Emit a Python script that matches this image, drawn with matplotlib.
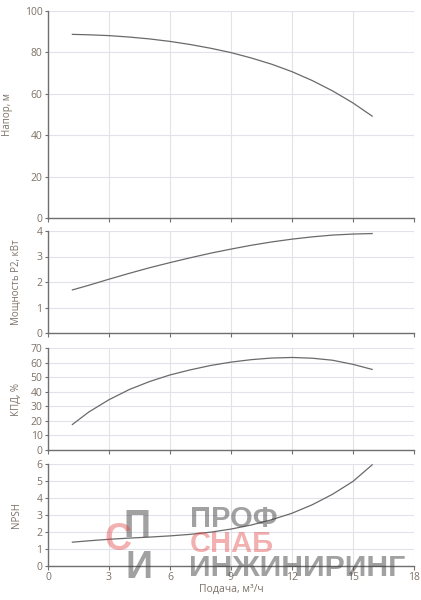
import matplotlib
matplotlib.use("Agg")
import matplotlib.pyplot as plt

# === DATI ===
flow = [1.2, 2, 3, 4, 5, 6, 7, 8, 9, 10, 11, 12, 13, 14, 15, 15.95]
head = [88.7, 88.5, 88.1, 87.4, 86.5, 85.3, 83.8, 82.0, 79.9, 77.3, 74.3,
        70.7, 66.4, 61.4, 55.6, 49.2]
power = [1.69, 1.87, 2.11, 2.34, 2.56, 2.76, 2.95, 3.13, 3.29, 3.44, 3.57,
         3.68, 3.77, 3.84, 3.88, 3.90]
eff = [17.5, 26, 34.5, 41.5, 47, 51.5, 55, 58, 60.3, 62, 63.1, 63.5, 63.0,
       61.6, 58.8, 55.3]
npsh = [1.40, 1.48, 1.57, 1.64, 1.70, 1.77, 1.86, 1.99, 2.17, 2.41, 2.72,
        3.10, 3.60, 4.22, 4.97, 5.95]

x_ticks = [0, 3, 6, 9, 12, 15, 18]
head_ticks = [0, 20, 40, 60, 80, 100]
power_ticks = [0, 1, 2, 3, 4]
eff_ticks = [0, 10, 20, 30, 40, 50, 60, 70]
npsh_ticks = [0, 1, 2, 3, 4, 5, 6]

TXT = "#7d7167"
GRID = "#e2e2ea"
SPINE = "#6f6f6f"
LINE = "#6a6a6a"

plt.rcParams['font.family'] = ['Open Sans', 'DejaVu Sans']

fig = plt.figure(figsize=(4.21, 6.0), dpi=100)

# (bottom, height, valori, tick, etichetta, posizione x etichetta)
panels = [
    (0.6367, 0.345, head, head_ticks, "Напор, м", -0.095),
    (0.445, 0.170, power, power_ticks, "Мощность P2, кВт", -0.071),
    (0.250, 0.170, eff, eff_ticks, "КПД, %", -0.071),
    (0.0567, 0.170, npsh, npsh_ticks, "NPSH", -0.071),
]

axes = []
for i, (bottom, height, values, yt, label, lx) in enumerate(panels):
    ax = fig.add_axes([0.114, bottom, 0.869, height])
    ax.plot(flow, values, color=LINE, lw=0.9, zorder=3)
    ax.set_xlim(0, 18)
    ax.set_ylim(yt[0], yt[-1])
    ax.set_xticks(x_ticks)
    ax.set_yticks(yt)
    ax.grid(True, color=GRID, lw=0.8)
    ax.set_axisbelow(True)
    for s in ["top", "right"]:
        ax.spines[s].set_visible(False)
    for s in ["left", "bottom"]:
        ax.spines[s].set_color(SPINE)
        ax.spines[s].set_linewidth(1.0)
    ax.tick_params(axis="y", length=2, width=0.8, color=SPINE, labelsize=7.5,
                   labelcolor=TXT, pad=2)
    ax.tick_params(axis="x", length=3, width=0.8, color=SPINE, labelsize=7.5,
                   labelcolor=TXT, pad=1)
    if i < 3:
        ax.set_xticklabels([])
    ax.set_ylabel(label, fontsize=7, color=TXT)
    ax.yaxis.set_label_coords(lx, 0.5)
    axes.append(ax)

axes[-1].set_xlabel("Подача, м³/ч", fontsize=7.5, color=TXT, labelpad=1)

# watermark (logo)
W = 421.0
H = 600.0
GRAY_WM = "#3c3c3c"
RED_WM = "#e23b3b"
wm = [
    ("ПРОФ", 190, 519, 21, GRAY_WM, 0.48),
    ("СНАБ", 190, 544, 21, RED_WM, 0.4),
    ("ИНЖИНИРИНГ", 189, 568, 21.8, GRAY_WM, 0.48),
    ("П", 124, 527, 27, GRAY_WM, 0.48),
    ("С", 104, 540, 27, RED_WM, 0.4),
    ("И", 126, 568, 27, GRAY_WM, 0.48),
]
for txt, px, py, fs, col, al in wm:
    fig.text(px / W, 1 - py / H, txt, fontsize=fs, color=col, alpha=al,
             fontweight="bold", ha="left", va="center",
             family=["Liberation Sans", "DejaVu Sans"])

fig.savefig("out.png", dpi=100)
